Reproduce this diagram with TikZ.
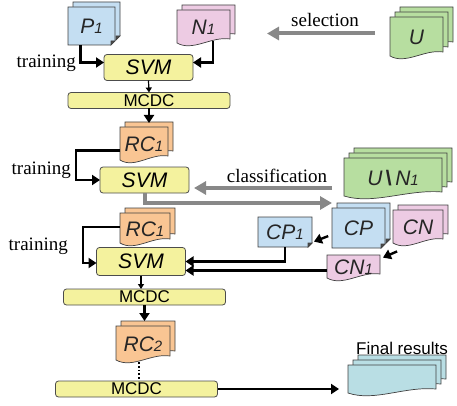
\documentclass[tikz,border=0pt]{standalone}
\usepackage{fontspec}
\setmainfont{Liberation Serif}
\setsansfont{Liberation Sans}
\usetikzlibrary{arrows.meta,calc}

\definecolor{docblue}{RGB}{196,222,242}
\definecolor{docpink}{RGB}{237,203,227}
\definecolor{docgreen}{RGB}{183,222,160}
\definecolor{docorange}{RGB}{249,197,147}
\definecolor{docteal}{RGB}{185,222,228}
\definecolor{boxyellow}{RGB}{244,242,158}
\definecolor{arrowgray}{RGB}{136,136,136}

% small index digit on the baseline
\newcommand{\idx}[1]{{\fontsize{15}{15}\selectfont #1}}
% one sheet with a wavy lower edge
\newcommand{\wavesheet}[5]{%
  \filldraw[sheet,fill=#1] (#2,#3) -- (#4,#3) -- (#4,#5-6)
    .. controls ($(#2,#5)!0.65!(#4,#5)+(0,-9)$) and ($(#2,#5)!0.3!(#4,#5)+(0,7)$) .. (#2,#5-2) -- cycle;}
% one sheet with a folded corner
\newcommand{\foldsheet}[5]{%
  \filldraw[sheet,fill=#1] (#2,#3) -- (#4,#3) -- (#4,#5-4) -- (#4-4,#5) -- (#2,#5) -- cycle;
  \filldraw[sheet,fill=black!70] (#4,#5-4) -- (#4-4,#5) -- (#4-4,#5-4) -- cycle;}
% name, kind, colour, sheets behind, x, y, width, height, label
\newcommand{\stackdoc}[9]{%
  \ifnum#4>0
    \foreach \k in {#4,...,1}
      {\csname #2sheet\endcsname{#3}{#5+5*\k}{#6-5*\k}{#5+#7+5*\k}{#6+#8-5*\k}}
  \fi
  \csname #2sheet\endcsname{#3}{#5}{#6}{#5+#7}{#6+#8}
  \node[doctext, minimum width=#7pt, minimum height=#8pt] (#1) at (#5+#7/2,#6+#8/2) {#9};}

\begin{document}
\begin{tikzpicture}[x=1pt, y=-1pt,
  sheet/.style={draw=black!75, line width=0.7pt},
  doctext/.style={inner sep=0pt, outer sep=0pt, text=black!85,
    font=\sffamily\itshape\fontsize{21}{22}\selectfont},
  svmbox/.style={draw=black!70, fill=boxyellow, rounded corners=3pt, line width=0.8pt,
    minimum width=89pt, minimum height=26pt, inner sep=0pt, outer sep=0pt,
    font=\sffamily\itshape\fontsize{21}{22}\selectfont},
  mcdcbox/.style={svmbox, minimum width=162pt, minimum height=16pt,
    font=\sffamily\fontsize{17}{17}\selectfont},
  lbl/.style={inner sep=0pt, font=\fontsize{19}{20}\selectfont},
  blackarrow/.style={line width=2.4pt, -{Triangle[length=8pt,width=10pt]}},
  thinarrow/.style={line width=1.2pt, -{Triangle[length=5pt,width=6pt]}},
  grayarrow/.style={line width=4pt, draw=arrowgray, -{Triangle[length=12pt,width=13pt]}}
]
  \useasboundingbox (0,0) rectangle (457,406);

  % documents
  \stackdoc{pOne}{fold}{docblue}{1}{68}{7}{47}{38}{P\idx{1}}
  \stackdoc{nOne}{wave}{docpink}{1}{177}{10}{53}{35}{N\idx{1}}
  \stackdoc{unlab}{wave}{docgreen}{2}{390}{17}{53}{41}{U}
  \stackdoc{rcFirst}{wave}{docorange}{1}{120}{127}{48}{35}{RC\idx{1}}
  \stackdoc{rest}{wave}{docgreen}{2}{344}{158}{98}{40}{U\,{\upshape\bfseries\textbackslash}\,N\idx{1}}
  \stackdoc{cp}{fold}{docblue}{1}{332}{208}{53}{40}{CP}
  \stackdoc{cn}{wave}{docpink}{1}{393}{210}{50}{35}{CN}
  \stackdoc{cpOne}{fold}{docblue}{0}{258}{217}{54}{30}{CP\idx{1}}
  \stackdoc{cnOne}{wave}{docpink}{0}{327}{255}{53}{25}{CN\idx{1}}
  \stackdoc{rcSecond}{wave}{docorange}{1}{120}{213}{50}{32}{RC\idx{1}}
  \stackdoc{rcTwo}{wave}{docorange}{1}{116}{326}{54}{36}{RC\idx{2}}
  \stackdoc{final}{wave}{docteal}{2}{348}{365}{88}{30}{}

  % boxes
  \node[svmbox] (svmA) at (148.5,67.5) {SVM};
  \node[mcdcbox] (mcdcA) at (149,100.5) {MCDC};
  \node[svmbox] (svmB) at (144.5,180) {SVM};
  \node[svmbox, minimum height=28pt] (svmC) at (141,261.5) {SVM};
  \node[mcdcbox] (mcdcB) at (144.5,297) {MCDC};
  \node[mcdcbox] (mcdcC) at (136.5,389) {MCDC};

  % labels
  \node[lbl, anchor=east] (trainA) at (76,63) {training};
  \node[lbl, anchor=east] (trainB) at (71,170) {training};
  \node[lbl, anchor=east] (trainC) at (68,246) {training};
  \node[lbl] (select) at (325,20) {selection};
  \node[lbl] (classify) at (277,176) {classification};
  \node[lbl, font=\sffamily\fontsize{17}{18}\selectfont] (finalLabel) at (402,348) {Final results};

  % first training
  \draw[blackarrow] ($(pOne.south)+(-11,0)$) |- ($(svmA.west)+(0,-5)$);
  \draw[blackarrow] ($(nOne.south)+(9.5,-4)$) |- ($(svmA.east)+(0,-5)$);
  \draw[thinarrow] (svmA.south) -- (mcdcA.north);
  \draw[blackarrow] (mcdcA.south) -- ($(mcdcA.south |- rcFirst.north)+(0,-4)$);
  \draw[grayarrow, shorten <=15pt, shorten >=37pt]
    ($(unlab.west)+(0,-4)$) -- ($(unlab.west -| nOne.east)+(0,-4)$);

  % second training and classification
  \draw[blackarrow] ($(rcFirst.west)+(0,6)$) -- ++(-44,0) |- (svmB.west);
  \draw[grayarrow, shorten <=12pt, shorten >=5pt]
    ($(rest.west)+(0,10)$) -- ($(rest.west -| svmB.east)+(0,10)$);
  \draw[grayarrow] (svmB.south) |- ($(cp.north west)+(0,-5)$);
  \draw[blackarrow, shorten <=3pt, shorten >=1pt]
    ($(cp.west)+(-1,7)$) -- ($(cpOne.south east)+(1,-5)$);
  \draw[blackarrow, shorten <=1pt, shorten >=1pt]
    ($(cn.south west)+(5,6)$) -- ($(cnOne.north east)+(2,3)$);

  % third training
  \draw[blackarrow] ($(rcSecond.west)+(0,-2)$) -- ++(-37,0) |- ($(svmC.west)+(0,1.5)$);
  \draw[blackarrow] (cpOne.south) |- (svmC.east);
  \draw[blackarrow] ($(cnOne.west)+(0,3)$) -- ($(cnOne.west -| svmC.east)+(0,3)$);
  \draw[thinarrow] (svmC.south) -- (svmC.south |- mcdcB.north);
  \draw[blackarrow] (mcdcB.south) -- ($(mcdcB.south |- rcTwo.north)+(0,-5)$);
  \draw[dotted, line width=1.8pt] ($(rcTwo.south)+(-4,0)$) -- ($(rcTwo.south |- mcdcC.north)+(-4,0)$);
  \draw[blackarrow, shorten >=9pt] (mcdcC.east) -- (mcdcC.east -| final.west);

\end{tikzpicture}
\end{document}
